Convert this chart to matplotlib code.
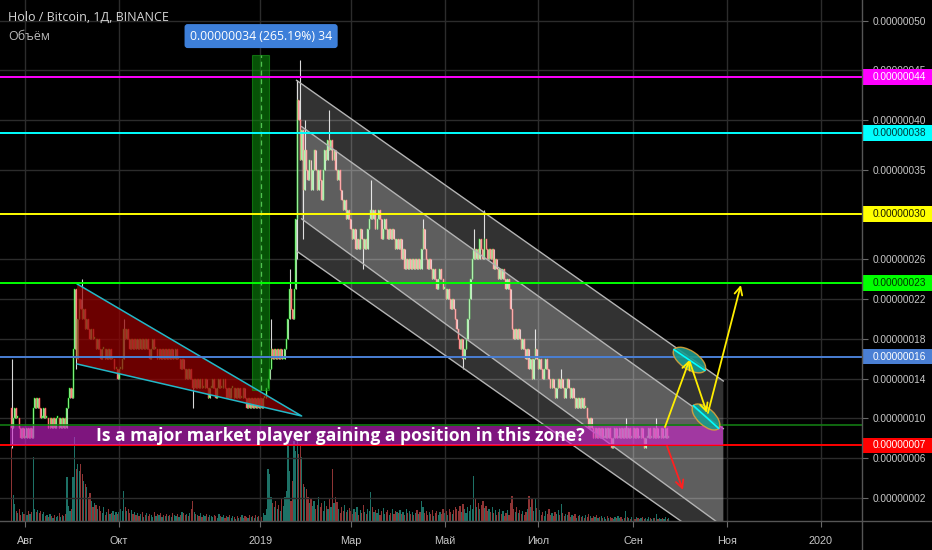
import numpy as np
import pandas as pd
import matplotlib
matplotlib.use("Agg")
import matplotlib.pyplot as plt
import matplotlib.dates as mdates
from matplotlib.patches import Polygon, Rectangle, Ellipse
from matplotlib.transforms import ScaledTranslation, blended_transform_factory
from matplotlib.lines import Line2D
from matplotlib.ticker import FuncFormatter

# цены в сатоши (1e-8 BTC), дневные закрытия
first_open = 11
close_2018_07 = [9, 10, 11, 10, 10, 9, 8, 9, 8]
close_2018_08 = [8, 9, 8, 9, 8, 11, 12, 11, 12, 11, 10, 10, 11, 10,
                 10, 9, 10, 9, 10, 9, 10, 10, 9, 10, 9, 10, 9, 11, 12, 13, 12]
close_2018_09 = [17, 23, 16, 20, 22, 21, 20, 21, 19, 20, 19, 18, 19, 18,
                 18, 17, 18, 17, 16, 17, 17, 16, 17, 16, 17, 16, 16, 15, 15, 14]
close_2018_10 = [15, 15, 16, 19, 18, 19, 18, 17, 18, 17, 18, 17, 18, 17, 18, 17,
                 18, 17, 18, 17, 16, 17, 18, 17, 17, 16, 17, 16, 17, 16, 17]
close_2018_11 = [16, 17, 16, 17, 16, 16, 17, 16, 16, 15, 16, 15, 14, 15, 14,
                 15, 14, 13, 14, 13, 14, 13, 14, 13, 13, 14, 13, 12, 13, 13]
close_2018_12 = [14, 13, 12, 13, 14, 13, 13, 14, 13, 12, 13, 12, 13, 13, 12, 13,
                 12, 13, 12, 12, 13, 12, 11, 12, 11, 12, 11, 12, 11, 12, 11]
close_2019_01 = [12, 11, 12, 12, 13, 14, 15, 17, 16, 17, 16, 17, 16, 17, 16, 16,
                 17, 18, 20, 23, 21, 20, 23, 30, 42, 40, 36, 39, 33, 37, 35]
close_2019_02 = [34, 36, 33, 35, 37, 35, 33, 35, 34, 32, 35, 37, 36, 38,
                 37, 38, 36, 37, 35, 34, 35, 33, 32, 31, 32, 30, 31, 30]
close_2019_03 = [29, 28, 29, 27, 28, 27, 29, 28, 27, 28, 27, 29, 30, 31, 30, 31,
                 29, 30, 31, 30, 28, 29, 30, 29, 28, 29, 28, 29, 28, 27, 28]
close_2019_04 = [27, 28, 26, 27, 25, 26, 25, 26, 25, 26, 25, 26, 25, 26, 25,
                 27, 29, 27, 26, 25, 26, 25, 24, 25, 24, 23, 24, 25, 24, 23]
close_2019_05 = [23, 22, 23, 22, 21, 22, 21, 20, 19, 18, 17, 18, 16, 17, 18, 20,
                 22, 24, 26, 27, 26, 27, 26, 28, 27, 26, 28, 27, 26, 27, 26]
close_2019_06 = [27, 25, 26, 25, 24, 25, 24, 25, 24, 23, 24, 23, 21, 19, 18,
                 19, 18, 19, 18, 17, 18, 17, 16, 17, 15, 16, 14, 16, 17, 16]
close_2019_07 = [15, 16, 15, 14, 15, 16, 15, 14, 13, 14, 13, 12, 13, 14, 13, 14,
                 13, 12, 13, 14, 13, 12, 13, 12, 11, 12, 11, 12, 11, 12, 11]
close_2019_08 = [11, 10, 9, 10, 9, 8, 9, 8, 9, 8, 9, 8, 8, 9, 8, 9,
                 8, 7, 8, 9, 8, 8, 9, 8, 9, 8, 9, 8, 9, 8, 8]
close_2019_09 = [9, 8, 9, 8, 8, 9, 8, 7, 8, 8, 9, 8, 8, 9, 8, 9, 8, 8, 9, 8, 8, 9, 8, 8]

closes = (close_2018_07 + close_2018_08 + close_2018_09 + close_2018_10 +
          close_2018_11 + close_2018_12 + close_2019_01 + close_2019_02 +
          close_2019_03 + close_2019_04 + close_2019_05 + close_2019_06 +
          close_2019_07 + close_2019_08 + close_2019_09)

# заметные тени
wick_high = {"2018-07-23": 16, "2018-09-02": 23, "2018-09-07": 24, "2018-10-04": 20,
             "2019-01-08": 20, "2019-01-20": 25, "2019-01-25": 44, "2019-01-27": 46,
             "2019-01-30": 40, "2019-02-15": 41, "2019-03-14": 34, "2019-04-17": 30,
             "2019-05-20": 29, "2019-05-27": 31, "2019-06-29": 19, "2019-07-16": 15,
             "2019-08-27": 10, "2019-09-16": 10}
wick_low = {"2018-07-23": 7, "2018-09-03": 15, "2018-11-18": 11, "2019-01-25": 26,
            "2019-01-29": 28, "2019-03-09": 25, "2019-05-13": 15}

# объём (относительные единицы)
vol_2018_07 = [74, 26, 17, 10, 8, 12, 6, 9, 7]
vol_2018_08 = [8, 6, 10, 7, 9, 64, 12, 9, 11, 8, 10, 7, 9, 5, 6, 4, 7, 5, 3, 6,
               4, 5, 8, 4, 6, 5, 7, 44, 15, 10, 12]
vol_2018_09 = [44, 84, 52, 57, 50, 57, 47, 40, 37, 34, 24, 28, 20, 14, 18, 16, 12,
               15, 10, 8, 14, 6, 9, 12, 7, 8, 10, 6, 9, 7]
vol_2018_10 = [9, 12, 10, 30, 14, 10, 12, 8, 11, 7, 9, 6, 8, 5, 7, 9, 4, 6, 8, 5,
               7, 6, 4, 9, 5, 7, 6, 8, 4, 6, 5]
vol_2018_11 = [7, 5, 6, 4, 8, 6, 5, 7, 4, 6, 9, 8, 6, 7, 5, 8, 12, 20, 9, 7, 6, 5,
               8, 4, 6, 5, 7, 4, 6, 5]
vol_2018_12 = [4, 6, 5, 3, 7, 5, 4, 6, 3, 5, 4, 6, 3, 5, 4, 2, 5, 3, 4, 6, 3, 5, 4,
               3, 6, 4, 5, 3, 6, 4, 5]
vol_2019_01 = [5, 4, 8, 6, 12, 52, 47, 24, 18, 14, 20, 12, 16, 10, 22, 15, 24, 30,
               84, 50, 20, 40, 80, 70, 84, 67, 75, 64, 37, 34, 32]
vol_2019_02 = [24, 18, 22, 15, 20, 12, 16, 24, 14, 18, 10, 20, 15, 12, 22, 14, 52,
               18, 24, 19, 12, 8, 14, 10, 16, 9, 11, 13]
vol_2019_03 = [10, 7, 12, 9, 14, 6, 11, 8, 16, 9, 7, 12, 10, 29, 14, 9, 11, 8, 12,
               6, 10, 13, 7, 9, 11, 6, 8, 12, 7, 10, 9]
vol_2019_04 = [8, 11, 7, 9, 6, 12, 8, 10, 7, 9, 6, 8, 11, 7, 9, 20, 14, 8, 10, 6,
               9, 7, 11, 5, 8, 10, 6, 9, 7, 12]
vol_2019_05 = [8, 10, 6, 12, 9, 7, 11, 14, 12, 10, 15, 9, 17, 12, 8, 14, 10, 16, 12,
               45, 22, 14, 18, 12, 16, 20, 13, 15, 10, 12, 9]
vol_2019_06 = [14, 8, 11, 6, 9, 12, 7, 10, 5, 8, 11, 6, 18, 25, 12, 9, 14, 8, 11,
               7, 10, 6, 9, 12, 25, 14, 22, 10, 23, 13]
vol_2019_07 = [8, 11, 6, 9, 5, 10, 7, 12, 6, 8, 5, 9, 7, 11, 6, 17, 8, 5, 7, 6, 9,
               4, 6, 5, 7, 3, 5, 6, 4, 5, 3]
vol_2019_08 = [6, 4, 7, 5, 3, 5, 4, 6, 3, 4, 5, 3, 4, 2, 5, 3, 4, 3, 2, 4, 3, 5, 3,
               4, 2, 3, 10, 4, 3, 2, 4]
vol_2019_09 = [3, 2, 4, 3, 2, 3, 4, 2, 3, 2, 4, 3, 2, 3, 3, 7, 2, 3, 2, 3, 2, 4, 2, 3]

volume = (vol_2018_07 + vol_2018_08 + vol_2018_09 + vol_2018_10 + vol_2018_11 +
          vol_2018_12 + vol_2019_01 + vol_2019_02 + vol_2019_03 + vol_2019_04 +
          vol_2019_05 + vol_2019_06 + vol_2019_07 + vol_2019_08 + vol_2019_09)

# горизонтальные уровни: значение, цвет линии, цвет текста метки
levels = [(44.33, "#ff00ff", "#ffffff"), (38.7, "#00ffff", "#003838"),
          (30.55, "#ffff00", "#1a1a00"), (23.6, "#00ff00", "#003300"),
          (16.2, "#4a7fd4", "#ffffff"), (7.27, "#ff0000", "#ffffff")]
level_labels = ["0.00000044", "0.00000038", "0.00000030", "0.00000023",
                "0.00000016", "0.00000007"]

# 0.00000030 на шкале закрыт жёлтой меткой
yticks = [2, 6, 10, 14, 18, 22, 26, 35, 40, 45, 50]
xtick_dates = ["2018-08-01", "2018-10-01", "2019-01-01", "2019-03-01", "2019-05-01",
               "2019-07-01", "2019-09-01", "2019-11-01", "2020-01-01"]
xtick_labels = ["Авг", "Окт", "2019", "Мар", "Май", "Июл", "Сен", "Ноя", "2020"]

dates = pd.date_range("2018-07-23", periods=len(closes), freq="D")
cl = np.array(closes, dtype=float)
op = np.array([first_open] + closes[:-1], dtype=float)
hi = np.maximum(op, cl)
lo = np.minimum(op, cl)
for d, v in wick_high.items():
    hi[dates.get_loc(pd.Timestamp(d))] = v
for d, v in wick_low.items():
    lo[dates.get_loc(pd.Timestamp(d))] = v
up = cl >= op

T = pd.Timestamp
axfont = ["Liberation Sans", "DejaVu Sans"]

fig = plt.figure(figsize=(9.32, 5.5), dpi=100, facecolor="black")
ax = fig.add_axes([0, 29 / 550, 862 / 932, 521 / 550])
axv = ax.twinx()
ax.set_zorder(axv.get_zorder() + 1)
ax.patch.set_visible(False)
axv.patch.set_visible(False)

# объём
axv.bar(dates, volume, width=0.8, color=np.where(up, "#1d7166", "#8e3434"),
        linewidth=0)
axv.set_ylim(0, max(volume) * 6.2)
axv.set_yticks([])
for s in axv.spines.values():
    s.set_visible(False)

# свечи
ax.vlines(dates, lo, hi, colors="#d8d8d8", linewidth=0.8, zorder=2)
body = np.maximum(np.abs(cl - op), 0.2)
ax.bar(dates, body, bottom=np.minimum(op, cl), width=0.65,
       color=np.where(up, "#f0fff0", "#ffc0c0"),
       edgecolor=np.where(up, "#00e000", "#ff2a2a"), linewidth=0.35, zorder=2)

# клин
tri = Polygon([[mdates.date2num(T("2018-09-03 17:00")), 23.51],
               [mdates.date2num(T("2019-01-27 22:00")), 10.23],
               [mdates.date2num(T("2018-09-03 17:00")), 15.46]],
              closed=True, facecolor="#950000", alpha=0.72, edgecolor="none", zorder=3)
ax.add_patch(tri)
ax.plot([T("2018-09-03 17:00"), T("2019-01-27 22:00"), T("2018-09-03 17:00")],
        [23.51, 10.23, 15.46], color="#22b8c8", lw=1.1, zorder=3.1)

# каналы
c0, c1 = T("2019-01-24 14:00"), T("2019-10-29 14:00")
outer = Polygon([[mdates.date2num(c0), 44.0], [mdates.date2num(c1), 13.75],
                 [mdates.date2num(c1), -3.34], [mdates.date2num(c0), 26.83]],
                closed=True, facecolor="white", alpha=0.2, edgecolor="none", zorder=3)
ax.add_patch(outer)
i0 = T("2019-01-27 22:00")
inner = Polygon([[mdates.date2num(i0), 39.34], [mdates.date2num(c1), 8.96],
                 [mdates.date2num(c1), -0.9], [mdates.date2num(i0), 30.06]],
                closed=True, facecolor="white", alpha=0.22, edgecolor="none", zorder=3)
ax.add_patch(inner)
for (a, b), (p, q) in [((c0, c1), (44.0, 13.75)), ((c0, c1), (26.83, -3.34)),
                       ((i0, c1), (39.34, 8.96)), ((i0, c1), (30.06, -0.9))]:
    ax.plot([a, b], [p, q], color="#b4b4b4", lw=1.0, zorder=3.2)

# зелёная зона измерения
g0, g1 = T("2018-12-26 07:00"), T("2019-01-06 19:00")
ax.add_patch(Rectangle((mdates.date2num(g0), 12.85),
                       mdates.date2num(g1) - mdates.date2num(g0), 46.55 - 12.85,
                       facecolor="#0b8a0b", alpha=0.6, edgecolor="#18a018", lw=0.8, zorder=3))
ax.plot([T("2019-01-01 12:00")] * 2, [12.85, 46.55], color="#4fc34f", lw=0.9,
        ls=(0, (4, 3)), zorder=3.2)
ax.text(T("2019-01-01 12:00"), 48.45, "0.00000034 (265.19%) 34", color="white",
        fontsize=8.8, family="Open Sans", ha="center", va="center", zorder=6,
        bbox=dict(boxstyle="round,pad=0.45,rounding_size=0.25", fc="#3d7fd9", ec="none"))

# горизонтальные уровни
ax.axhline(9.28, color="#137a13", lw=1.2, zorder=4)
for (v, c, tc) in levels:
    ax.axhline(v, color=c, lw=1.4, zorder=4)

# фиолетовая зона
z0, z1 = T("2018-07-21 19:00"), T("2019-10-29 14:00")
ax.add_patch(Rectangle((mdates.date2num(z0), 7.32), mdates.date2num(z1) - mdates.date2num(z0),
                       9.24 - 7.32, facecolor="#cc22cc", alpha=0.62, edgecolor="none", zorder=4.5))
ax.text(T("2019-02-22"), 8.25, "Is a major market player gaining a position in this zone?",
        color="white", fontsize=12.6, fontweight="bold", family="Open Sans",
        ha="center", va="center", zorder=6)

# эллипсы
for cx, cy, a, b, ang in [("2019-10-07 12:00", 15.86, 18.6, 9.0, -34),
                          ("2019-10-18 07:00", 10.13, 17.0, 8.5, -42)]:
    tr = fig.dpi_scale_trans + ScaledTranslation(mdates.date2num(T(cx)), cy, ax.transData)
    ax.add_patch(Ellipse((0, 0), 2 * a / 100, 2 * b / 100, angle=ang, transform=tr,
                         facecolor="#1d9a8e", alpha=0.9, edgecolor="#d9a23a", lw=1.0, zorder=5))
    r = np.deg2rad(ang)
    ax.add_line(Line2D([-a / 100 * np.cos(r), a / 100 * np.cos(r)],
                       [-a / 100 * np.sin(r), a / 100 * np.sin(r)],
                       transform=tr, color="#00ffff", lw=1.2, zorder=5.1))

# стрелки
arrows = [(("2019-09-21 14:00", 9.12), ("2019-10-07 12:00", 15.86), "#ffee00"),
          (("2019-10-07 19:00", 15.66), ("2019-10-18 22:00", 10.54), "#ffee00"),
          (("2019-10-19 14:00", 10.54), ("2019-11-10 00:00", 23.41), "#ffee00"),
          (("2019-09-22 22:00", 7.2), ("2019-10-03 07:00", 2.79), "#ff2020")]
for (sd, sv), (ed, ev), c in arrows:
    ax.annotate("", xy=(T(ed), ev), xytext=(T(sd), sv), zorder=5.5,
                arrowprops=dict(arrowstyle="->", color=c, lw=1.3, shrinkA=0, shrinkB=0,
                                mutation_scale=14))

# оси
ax.set_xlim(T("2018-07-15 10:00"), T("2020-01-27 22:00"))
ax.set_ylim(-0.333, 52.08)
axv.set_xlim(ax.get_xlim())
ax.yaxis.tick_right()
ax.set_yticks(yticks)
ax.yaxis.set_major_formatter(FuncFormatter(lambda v, p: f"{v * 1e-8:.8f}"))
ax.set_xticks([T(d) for d in xtick_dates])
ax.set_xticklabels(xtick_labels)
ax.tick_params(axis="both", colors="#6a6a6a", labelcolor="#c8c8c8", length=4,
               width=0.8, pad=4, labelsize=7.3)
for lab in ax.get_xticklabels() + ax.get_yticklabels():
    lab.set_family(axfont)
ax.tick_params(axis="x", pad=7, labelsize=7.8)
ax.grid(True, color="#2c2c2c", lw=1.0)
for s in ax.spines.values():
    s.set_visible(False)

# метки уровней на шкале
btr = blended_transform_factory(ax.transAxes, ax.transData)
for (v, c, tc), lab in zip(levels, level_labels):
    ax.add_patch(Rectangle((1.0, v - 0.78), 70 / 862, 1.56, transform=btr, facecolor=c,
                           edgecolor="none", clip_on=False, zorder=7))
    ax.text(1.0 + 11 / 862, v, lab, transform=btr, color=tc, fontsize=7.3, family=axfont,
            ha="left", va="center", clip_on=False, zorder=8)

# разделители шкал
fig.add_artist(Line2D([862 / 932, 862 / 932], [0, 1], color="#555555", lw=1.0))
fig.add_artist(Line2D([0, 1], [29 / 550, 29 / 550], color="#555555", lw=1.0))

fig.text(8 / 932, 1 - 17 / 550, "Holo / Bitcoin, 1Д, BINANCE", color="#d6d6d6",
         fontsize=9, family="Open Sans", va="center", ha="left")
fig.text(8 / 932, 1 - 36 / 550, "Объём", color="#b8b8b8", fontsize=9,
         family="Open Sans", va="center", ha="left")

fig.savefig("out.png", dpi=100, facecolor="black")
